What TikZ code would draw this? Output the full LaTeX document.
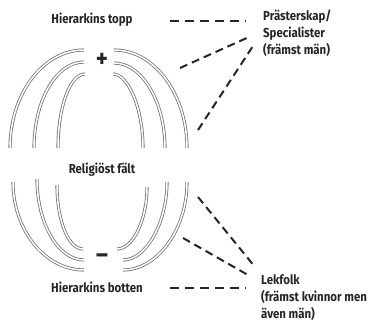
\documentclass[tikz,border=0pt]{standalone}
\usepackage{fontspec}
\setmainfont{Fira Sans}[FakeStretch=0.88]
\begin{document}
\begin{tikzpicture}[x=1pt,y=-1pt,
  lbl/.style={font=\bfseries\fontsize{13}{17}\selectfont, inner sep=0pt, text=black!85},
  rlbl/.style={lbl, anchor=north west, align=left},
  sign/.style={font=\bfseries\fontsize{26}{26}\selectfont, inner sep=0pt, text=black!85},
  arcline/.style={draw=black!55, line width=0.8pt, double=white, double distance=1.5pt},
  dashline/.style={draw=black!85, line width=2pt, dash pattern=on 9pt off 6pt},
  ddash/.style={draw=black!85, line width=2pt, dash pattern=on 8pt off 5pt}]
\useasboundingbox (0,0) rectangle (377,321);

% labels
\node[lbl] (topp) at (92,20) {Hierarkins topp};
\node[lbl] (relig) at (102,170) {Religiöst fält};
\node[lbl] (botten) at (97,287) {Hierarkins botten};
\node[rlbl] (prast) at (263,10) {Prästerskap/\\Specialister\\(främst män)};
\node[rlbl] (lek) at (261,274) {Lekfolk\\(främst kvinnor men\\även män)};
\node[sign] (plus) at (102,60) {+};
\node[sign] (minus) at (102,259) {–};

% top arcs (left)
\draw[arcline] (84,50) .. controls (43,50) and (10,94) .. (10,148);
\draw[arcline] (84,62) .. controls (56,62) and (34,101) .. (34,148);
\draw[arcline] (85,74) .. controls (70,74) and (58,107) .. (58,148);
% top arcs (right)
\draw[arcline] (114,50) .. controls (155,50) and (187,95) .. (187,148);
\draw[arcline] (114,63) .. controls (142,63) and (165,102) .. (165,148);
\draw[arcline] (113,74) .. controls (128,74) and (143,108) .. (143,148);

% bottom arcs (left)
\draw[arcline] (13,182) .. controls (13,230) and (45,270) .. (84,270);
\draw[arcline] (37,179) .. controls (37,223) and (58,260) .. (84,260);
\draw[arcline] (57,185) .. controls (57,220) and (68,249) .. (83,249);
% bottom arcs (right)
\draw[arcline] (187,182) .. controls (187,230) and (157,270) .. (123,270);
\draw[arcline] (167,182) .. controls (167,223) and (146,260) .. (123,260);
\draw[arcline] (147,187) .. controls (147,220) and (133,249) .. (117,249);

% dashed connectors
\coordinate (t1) at (170,21);
\coordinate (t2) at (246,21);
\coordinate (p1) at (249,37);
\coordinate (p2) at (253,46);
\coordinate (a1) at (180,68);
\coordinate (a2) at (198,130);
\coordinate (b1) at (198,197);
\coordinate (b2) at (183,238);
\coordinate (l1) at (255,267);
\coordinate (l2) at (248,275);
\coordinate (h1) at (170,288);
\coordinate (h2) at (246,288);

\draw[dashline] (t1) -- (t2);
\draw[dashline] (h1) -- (h2);
\draw[ddash] (a1) -- (p1);
\draw[ddash] (a2) -- (p2);
\draw[ddash] (b1) -- (l1);
\draw[ddash] (b2) -- (l2);
\end{tikzpicture}
\end{document}
